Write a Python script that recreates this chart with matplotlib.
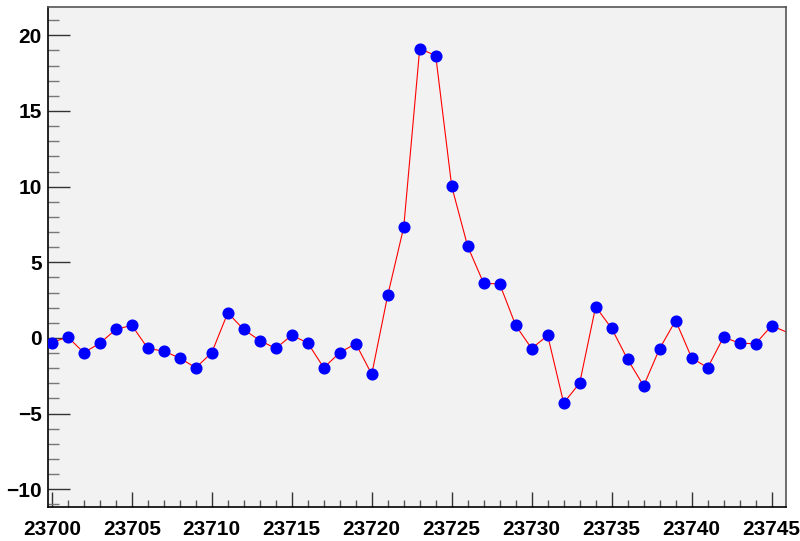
import matplotlib
matplotlib.use("Agg")
import matplotlib.pyplot as plt
from matplotlib.ticker import MultipleLocator

# data
x_vals = list(range(23700, 23747))
y_vals = [-0.30, 0.06, -0.97, -0.35, 0.56, 0.84, -0.69, -0.87, -1.33, -1.97,
          -0.97, 1.66, 0.56, -0.17, -0.69, 0.18, -0.33, -1.97, -0.97, -0.37,
          -2.40, 2.82, 7.32, 19.12, 18.66, 10.02, 6.05, 3.61, 3.57, 0.83,
          -0.70, 0.17, -4.30, -2.98, 2.07, 0.63, -1.42, -3.16, -0.70, 1.15,
          -1.31, -1.97, 0.06, -0.35, -0.38, 0.81, 0.36]

x_min, x_max = 23699.79, 23745.9

plt.rcParams['font.family'] = ['Liberation Sans', 'DejaVu Sans']

fig = plt.figure(figsize=(8.0, 5.41), dpi=100)
ax = fig.add_axes([0.0606, 0.0623, 0.9219, 0.9253])
ax.set_facecolor('#f2f2f2')

ax.plot(x_vals, y_vals, color='red', lw=0.8, zorder=2)
# markers only where the point itself is inside the frame (ROOT-like)
mx = [x for x in x_vals if x_min <= x <= x_max]
my = [y for x, y in zip(x_vals, y_vals) if x_min <= x <= x_max]
ax.plot(mx, my, 'o', color='blue', markersize=7.7, zorder=3)

ax.set_xlim(x_min, x_max)
ax.set_ylim(-11.19, 21.89)

ax.xaxis.set_major_locator(MultipleLocator(5))
ax.xaxis.set_minor_locator(MultipleLocator(1))
ax.yaxis.set_major_locator(MultipleLocator(5))
ax.yaxis.set_minor_locator(MultipleLocator(1))
ax.xaxis.set_major_formatter(plt.FuncFormatter(lambda v, p: f"{int(round(v))}"))

ax.tick_params(axis='x', which='major', direction='in', length=10.8, width=1,
               color='#333333', pad=9.5, labelsize=15)
ax.tick_params(axis='x', which='minor', direction='in', length=5, width=1,
               color='#555555')
ax.tick_params(axis='y', which='major', direction='in', length=15.8, width=1,
               color='#333333', pad=5, labelsize=15)
ax.tick_params(axis='y', which='minor', direction='in', length=7.7, width=1,
               color='#777777')
for lab in ax.get_xticklabels() + ax.get_yticklabels():
    lab.set_fontweight('bold')

for side in ['left', 'bottom']:
    ax.spines[side].set_color('black')
    ax.spines[side].set_linewidth(1.2)
for side in ['top', 'right']:
    ax.spines[side].set_color('#555555')
    ax.spines[side].set_linewidth(1.2)

fig.savefig('out.png', dpi=100, facecolor='white')
